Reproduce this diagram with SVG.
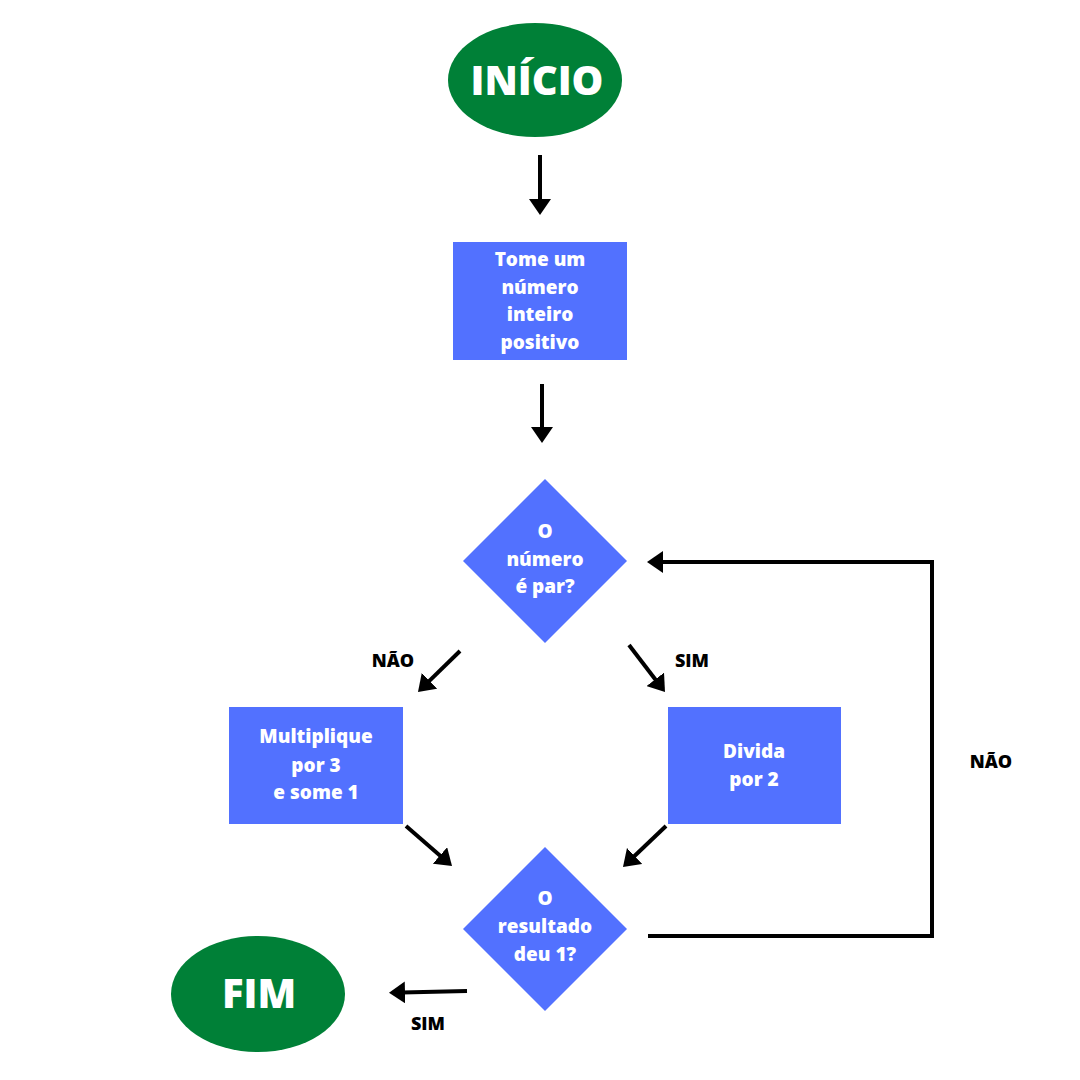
<svg xmlns="http://www.w3.org/2000/svg" width="1080" height="1080" viewBox="0 0 1080 1080">
<style>
.term{fill:#008037}
.proc{fill:#5271FF}
.t{font-family:"Open Sans","Liberation Sans",sans-serif;font-weight:800;fill:#fff;text-anchor:middle;font-size:19px}
.big{font-size:40px;font-weight:800}
.lbl{font-family:"Open Sans","Liberation Sans",sans-serif;font-weight:800;fill:#000;text-anchor:middle;font-size:18px}
.c{fill:none;stroke:#000;stroke-width:4;marker-end:url(#ah)}
</style>
<defs>
<marker id="ah" markerUnits="userSpaceOnUse" markerWidth="16" markerHeight="22" viewBox="0 0 16 22" refX="3" refY="11" orient="auto">
<path d="M0,0 L16,11 L0,22 z" fill="#000"/>
</marker>
</defs>
<rect width="1080" height="1080" fill="#fff"/>
<g id="connectors">
<line class="c" x1="540" y1="155" x2="540" y2="202"/>
<line class="c" x1="542" y1="384" x2="542" y2="430"/>
<line class="c" x1="460" y1="651" x2="427.3" y2="682.9"/>
<line class="c" x1="629" y1="645" x2="657.1" y2="681.7"/>
<line class="c" x1="406" y1="826" x2="442.2" y2="857.5"/>
<line class="c" x1="666" y1="826" x2="632.4" y2="858"/>
<line class="c" x1="467" y1="991" x2="402" y2="992.5"/>
<polyline class="c" points="648,936 932,936 932,562 660,562"/>
</g>
<g id="inicio">
<ellipse class="term" cx="535" cy="80" rx="87" ry="57"/>
<text class="t big" x="537" y="95">INÍCIO</text>
</g>
<g id="tome">
<rect class="proc" x="453" y="242" width="174" height="118"/>
<text class="t" x="540" y="266">Tome um</text>
<text class="t" x="540" y="294">número</text>
<text class="t" x="540" y="321">inteiro</text>
<text class="t" x="540" y="349">positivo</text>
</g>
<g id="par">
<polygon class="proc" points="545,479 627,561 545,643 463,561"/>
<text class="t" x="545" y="538">O</text>
<text class="t" x="545" y="566">número</text>
<text class="t" x="545" y="593">é par?</text>
</g>
<g id="multiplique">
<rect class="proc" x="229" y="707" width="174" height="117"/>
<text class="t" x="316" y="743">Multiplique</text>
<text class="t" x="316" y="772">por 3</text>
<text class="t" x="316" y="799">e some 1</text>
</g>
<g id="divida">
<rect class="proc" x="668" y="707" width="173" height="117"/>
<text class="t" x="754" y="758">Divida</text>
<text class="t" x="754" y="786">por 2</text>
</g>
<g id="resultado">
<polygon class="proc" points="545,847 627,929 545,1011 463,929"/>
<text class="t" x="545" y="905">O</text>
<text class="t" x="545" y="933">resultado</text>
<text class="t" x="545" y="961">deu 1?</text>
</g>
<g id="fim">
<ellipse class="term" cx="258" cy="994" rx="87" ry="58"/>
<text class="t big" x="259" y="1008">FIM</text>
</g>
<g id="labels">
<text class="lbl" x="393" y="667">NÃO</text>
<text class="lbl" x="692" y="667">SIM</text>
<text class="lbl" x="991" y="768">NÃO</text>
<text class="lbl" x="428" y="1030">SIM</text>
</g>
</svg>
